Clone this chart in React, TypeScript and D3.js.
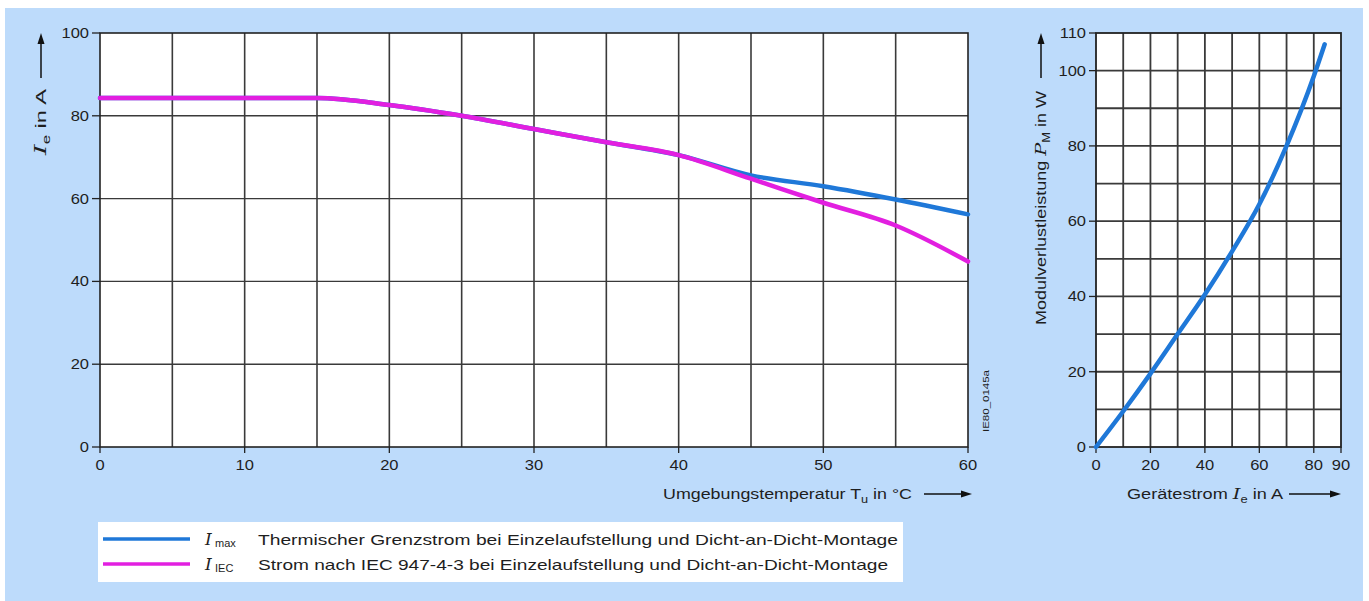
import * as d3 from 'd3'

// left chart: current vs ambient temperature
const tempC = [0, 5, 10, 15, 20, 25, 30, 35, 40, 45, 50, 55, 60]
const iMax = [84.3, 84.3, 84.3, 84.3, 82.6, 80, 76.8, 73.6, 70.5, 65.6, 63, 59.8, 56.2]
const iIec = [84.3, 84.3, 84.3, 84.3, 82.6, 80, 76.8, 73.6, 70.5, 64.8, 59, 53.5, 44.8]
const leftXTicks = [0, 10, 20, 30, 40, 50, 60]
const leftYTicks = [0, 20, 40, 60, 80, 100]

// right chart: module loss vs device current
const currentA = [0, 10, 20, 30, 40, 50, 60, 70, 80, 84]
const lossW = [0, 9.5, 19.5, 30, 40.5, 52, 64.5, 80, 98.5, 107]
const rightXTicks = [0, 20, 40, 60, 80, 90]
const rightYTicks = [0, 20, 40, 60, 80, 100, 110]

const legendItems = [
  { sub: 'max', text: 'Thermischer Grenzstrom bei Einzelaufstellung und Dicht-an-Dicht-Montage', color: '#1f78d8', len: 640 },
  { sub: 'IEC', text: 'Strom nach IEC 947-4-3 bei Einzelaufstellung und Dicht-an-Dicht-Montage', color: '#e21fe0', len: 630 },
]

const BLUE = '#1f78d8'
const PINK = '#e21fe0'
const FONT = '"Liberation Sans", Arial, sans-serif'
const SERIF = '"DejaVu Serif", "Liberation Serif", serif'
const TXT = '#1e1e1e'
const GRID = '#3a3a3a'

const xL = d3.scaleLinear().domain([0, 60]).range([100, 968])
const yL = d3.scaleLinear().domain([0, 100]).range([447, 33])
const xR = d3.scaleLinear().domain([0, 90]).range([1096, 1341])
const yR = d3.scaleLinear().domain([0, 110]).range([447, 33])

function Tick({ x, y, anchor, children }: { x: number; y: number; anchor: string; children: any }) {
  return (
    <text
      transform={`translate(${x},${y}) scale(1.18,1)`}
      textAnchor={anchor}
      fontFamily={FONT}
      fontSize={14}
      fill={TXT}
    >
      {children}
    </text>
  )
}

function ArrowH({ x1, x2, y }: { x1: number; x2: number; y: number }) {
  return (
    <g>
      <line x1={x1} x2={x2 - 8} y1={y} y2={y} stroke="#111" strokeWidth={1.5} />
      <path d={`M${x2},${y} L${x2 - 11},${y - 3.5} L${x2 - 11},${y + 3.5} Z`} fill="#111" />
    </g>
  )
}

function ArrowV({ x, y1, y2 }: { x: number; y1: number; y2: number }) {
  return (
    <g>
      <line x1={x} x2={x} y1={y1} y2={y2 + 8} stroke="#111" strokeWidth={1.5} />
      <path d={`M${x},${y2} L${x - 3.5},${y2 + 11} L${x + 3.5},${y2 + 11} Z`} fill="#111" />
    </g>
  )
}

export default function App() {
  const lineL = d3
    .line<number>()
    .x((_, i) => xL(tempC[i]))
    .y((d) => yL(d))
    .curve(d3.curveMonotoneX)
  const lineR = d3
    .line<number>()
    .x((_, i) => xR(currentA[i]))
    .y((d) => yR(d))
    .curve(d3.curveMonotoneX)

  const leftVGrid = d3.range(5, 60, 5)
  const leftHGrid = d3.range(20, 100, 20)
  const rightVGrid = d3.range(10, 90, 10)
  const rightHGrid = d3.range(10, 110, 10)

  return (
    <svg
      width={1369}
      height={601}
      style={{ position: 'absolute', left: 0, top: 0, display: 'block' }}
    >
      <rect x={0} y={0} width={1369} height={601} fill="#fff" />
      <rect x={5} y={8} width={1358} height={593} fill="#bddbfb" />

      {/* left plot */}
      <rect x={xL(0)} y={yL(100)} width={xL(60) - xL(0)} height={yL(0) - yL(100)} fill="#fff" />
      {leftVGrid.map((v) => (
        <line key={'lv' + v} x1={xL(v)} x2={xL(v)} y1={yL(0)} y2={yL(100)} stroke={GRID} strokeWidth={1.6} />
      ))}
      {leftHGrid.map((v) => (
        <line key={'lh' + v} x1={xL(0)} x2={xL(60)} y1={yL(v)} y2={yL(v)} stroke={GRID} strokeWidth={1.4} />
      ))}
      <rect
        x={xL(0)}
        y={yL(100)}
        width={xL(60) - xL(0)}
        height={yL(0) - yL(100)}
        fill="none"
        stroke="#222"
        strokeWidth={1.6}
      />
      {leftYTicks.map((v) => (
        <g key={'ly' + v}>
          <line x1={xL(0) - 8} x2={xL(0)} y1={yL(v)} y2={yL(v)} stroke="#222" strokeWidth={1.3} />
          <Tick x={xL(0) - 11} y={yL(v) + 5} anchor="end">{v}</Tick>
        </g>
      ))}
      {leftXTicks.map((v) => (
        <g key={'lx' + v}>
          <line x1={xL(v)} x2={xL(v)} y1={yL(0)} y2={yL(0) + 6} stroke="#222" strokeWidth={1.3} />
          <Tick x={xL(v)} y={yL(0) + 23} anchor="middle">{v}</Tick>
        </g>
      ))}
      <path d={lineL(iMax) ?? ''} fill="none" stroke={BLUE} strokeWidth={4.5} strokeLinecap="round" />
      <path d={lineL(iIec) ?? ''} fill="none" stroke={PINK} strokeWidth={4.5} strokeLinecap="round" />

      {/* left axis titles */}
      <g transform="translate(46,155) rotate(-90)">
        <text fontFamily={FONT} fontSize={14} fill={TXT} textLength={66} lengthAdjust="spacingAndGlyphs">
          <tspan fontFamily={SERIF} fontStyle="italic" fontSize={16}>I</tspan>
          <tspan fontSize={10} dy={4}>e</tspan>
          <tspan dy={-4}> in A</tspan>
        </text>
      </g>
      <ArrowV x={41} y1={78} y2={33} />

      <text
        x={912}
        y={499}
        textAnchor="end"
        fontFamily={FONT}
        fontSize={14}
        fill={TXT}
        textLength={249}
        lengthAdjust="spacingAndGlyphs"
      >
        Umgebungstemperatur T<tspan fontSize={10} dy={4}>u</tspan>
        <tspan dy={-4}> in °C</tspan>
      </text>
      <ArrowH x1={924} x2={972} y={494} />

      <text
        transform="translate(989,432) rotate(-90)"
        fontFamily={FONT}
        fontSize={8.5}
        fill={TXT}
        textLength={62}
        lengthAdjust="spacingAndGlyphs"
      >
        IE80_0145a
      </text>

      {/* right plot */}
      <rect x={xR(0)} y={yR(110)} width={xR(90) - xR(0)} height={yR(0) - yR(110)} fill="#fff" />
      {rightVGrid.map((v) => (
        <line key={'rv' + v} x1={xR(v)} x2={xR(v)} y1={yR(0)} y2={yR(110)} stroke={GRID} strokeWidth={1.8} />
      ))}
      {rightHGrid.map((v) => (
        <line key={'rh' + v} x1={xR(0)} x2={xR(90)} y1={yR(v)} y2={yR(v)} stroke={GRID} strokeWidth={1.8} />
      ))}
      <rect
        x={xR(0)}
        y={yR(110)}
        width={xR(90) - xR(0)}
        height={yR(0) - yR(110)}
        fill="none"
        stroke="#222"
        strokeWidth={1.8}
      />
      {rightYTicks.map((v) => (
        <g key={'ry' + v}>
          <line x1={xR(0) - 7} x2={xR(0)} y1={yR(v)} y2={yR(v)} stroke="#222" strokeWidth={1.3} />
          <Tick x={xR(0) - 10} y={yR(v) + 5} anchor="end">{v}</Tick>
        </g>
      ))}
      {rightXTicks.map((v) => (
        <g key={'rx' + v}>
          <line x1={xR(v)} x2={xR(v)} y1={yR(0)} y2={yR(0) + 6} stroke="#222" strokeWidth={1.3} />
          <Tick x={xR(v)} y={yR(0) + 23} anchor="middle">{v}</Tick>
        </g>
      ))}
      <path d={lineR(lossW) ?? ''} fill="none" stroke={BLUE} strokeWidth={4.5} strokeLinecap="round" />

      {/* right axis titles */}
      <g transform="translate(1046,325) rotate(-90)">
        <text fontFamily={FONT} fontSize={14} fill={TXT} textLength={234} lengthAdjust="spacingAndGlyphs">
          Modulverlustleistung{' '}
          <tspan fontFamily={SERIF} fontStyle="italic" fontSize={15}>P</tspan>
          <tspan fontSize={10} dy={4}>M</tspan>
          <tspan dy={-4}> in W</tspan>
        </text>
      </g>
      <ArrowV x={1041} y1={78} y2={33} />

      <text
        x={1127}
        y={499}
        fontFamily={FONT}
        fontSize={14}
        fill={TXT}
        textLength={156}
        lengthAdjust="spacingAndGlyphs"
      >
        Gerätestrom{' '}
        <tspan fontFamily={SERIF} fontStyle="italic" fontSize={15}>I</tspan>
        <tspan fontSize={10} dy={4}>e</tspan>
        <tspan dy={-4}> in A</tspan>
      </text>
      <ArrowH x1={1289} x2={1341} y={494} />

      {/* legend */}
      <rect x={98} y={522} width={805} height={60} fill="#fff" />
      {legendItems.map((d, i) => {
        const y = 539 + i * 25
        return (
          <g key={d.sub}>
            <line x1={103} x2={190} y1={y} y2={y} stroke={d.color} strokeWidth={3.5} />
            <text x={205} y={y + 6} fontFamily={SERIF} fontStyle="italic" fontSize={17} fill={TXT}>
              I
            </text>
            <text x={215} y={y + 8} fontFamily={FONT} fontSize={11} fill={TXT}>
              {d.sub}
            </text>
            <text
              x={258}
              y={y + 6}
              fontFamily={FONT}
              fontSize={15}
              fill={TXT}
              textLength={d.len}
              lengthAdjust="spacingAndGlyphs"
            >
              {d.text}
            </text>
          </g>
        )
      })}
    </svg>
  )
}
